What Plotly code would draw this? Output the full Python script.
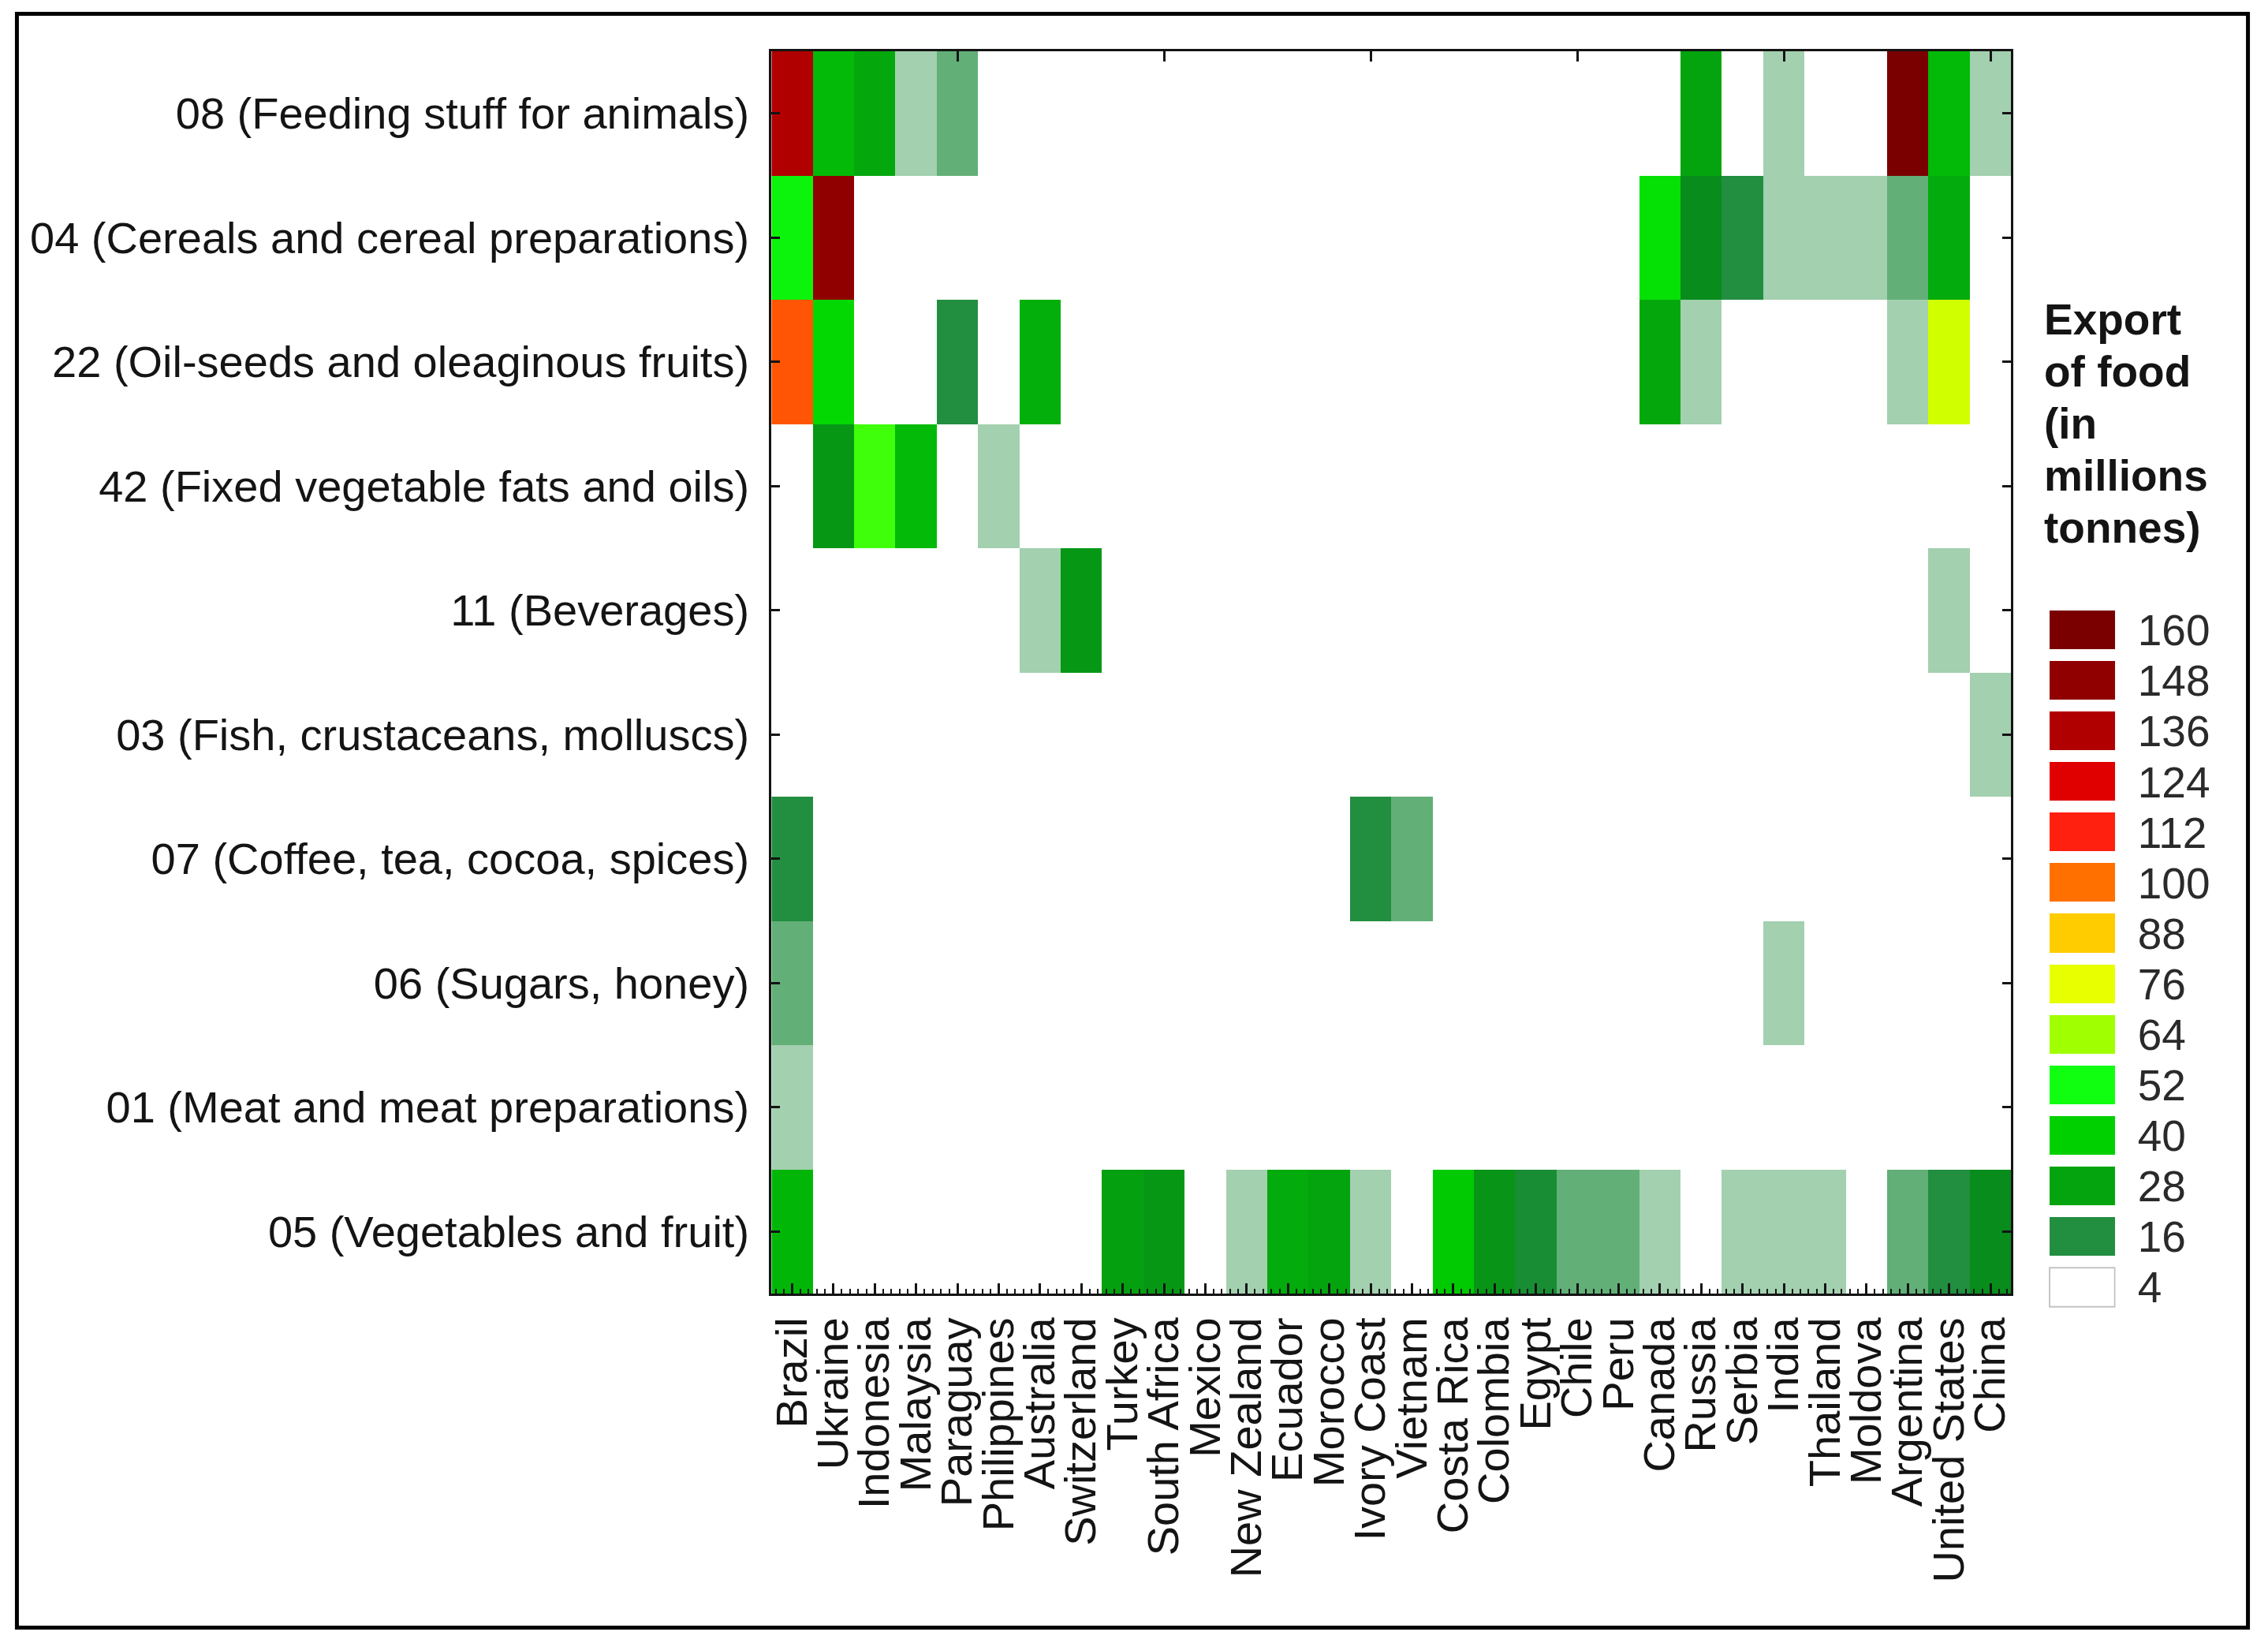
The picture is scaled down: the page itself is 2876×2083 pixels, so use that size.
import plotly.graph_objects as go

W, H = 2876, 2083

countries = ["Brazil", "Ukraine", "Indonesia", "Malaysia", "Paraguay", "Philippines", "Australia",
             "Switzerland", "Turkey", "South Africa", "Mexico", "New Zealand", "Ecuador", "Morocco",
             "Ivory Coast", "Vietnam", "Costa Rica", "Colombia", "Egypt", "Chile", "Peru", "Canada",
             "Russia", "Serbia", "India", "Thailand", "Moldova", "Argentina", "United States", "China"]

products = ["08 (Feeding stuff for animals)", "04 (Cereals and cereal preparations)",
            "22 (Oil-seeds and oleaginous fruits)", "42 (Fixed vegetable fats and oils)",
            "11 (Beverages)", "03 (Fish, crustaceans, molluscs)", "07 (Coffee, tea, cocoa, spices)",
            "06 (Sugars, honey)", "01 (Meat and meat preparations)", "05 (Vegetables and fruit)"]

# values in millions of tonnes, one row per product, columns follow `countries`; 0 = below the lowest class
row_08 = [136, 34, 29, 9, 12.5, 0, 0, 0, 0, 0, 0, 0, 0, 0, 0, 0, 0, 0, 0, 0, 0, 0, 28, 0, 9, 0, 0, 160, 34, 9]
row_04 = [49, 148, 0, 0, 0, 0, 0, 0, 0, 0, 0, 0, 0, 0, 0, 0, 0, 0, 0, 0, 0, 44, 22, 16, 9, 9, 9, 12.5, 30, 0]
row_22 = [104, 42, 0, 0, 16, 0, 31, 0, 0, 0, 0, 0, 0, 0, 0, 0, 0, 0, 0, 0, 0, 29, 9, 0, 0, 0, 0, 9, 72, 0]
row_42 = [0, 25, 56, 34, 0, 9, 0, 0, 0, 0, 0, 0, 0, 0, 0, 0, 0, 0, 0, 0, 0, 0, 0, 0, 0, 0, 0, 0, 0, 0]
row_11 = [0, 0, 0, 0, 0, 0, 9, 25, 0, 0, 0, 0, 0, 0, 0, 0, 0, 0, 0, 0, 0, 0, 0, 0, 0, 0, 0, 0, 9, 0]
row_03 = [0, 0, 0, 0, 0, 0, 0, 0, 0, 0, 0, 0, 0, 0, 0, 0, 0, 0, 0, 0, 0, 0, 0, 0, 0, 0, 0, 0, 0, 9]
row_07 = [16, 0, 0, 0, 0, 0, 0, 0, 0, 0, 0, 0, 0, 0, 16, 12.5, 0, 0, 0, 0, 0, 0, 0, 0, 0, 0, 0, 0, 0, 0]
row_06 = [12.5, 0, 0, 0, 0, 0, 0, 0, 0, 0, 0, 0, 0, 0, 0, 0, 0, 0, 0, 0, 0, 0, 0, 0, 9, 0, 0, 0, 0, 0]
row_01 = [9, 0, 0, 0, 0, 0, 0, 0, 0, 0, 0, 0, 0, 0, 0, 0, 0, 0, 0, 0, 0, 0, 0, 0, 0, 0, 0, 0, 0, 0]
row_05 = [33, 0, 0, 0, 0, 0, 0, 0, 27, 25, 0, 9, 30, 28, 9, 0, 38, 24, 18, 12.5, 12.5, 9, 0, 9, 9, 9, 0, 12.5, 16, 22]

legend_values = [160, 148, 136, 124, 112, 100, 88, 76, 64, 52, 40, 28, 16, 4]
legend_colors = ["#7a0000", "#900000", "#b00000", "#e00000", "#ff2010", "#ff7000", "#ffcc00",
                 "#e8ff00", "#a0ff00", "#10ff10", "#00d000", "#04a40e", "#228e40", "#ffffff"]

z_min, z_max = min(legend_values), max(legend_values)
stops = sorted(list(zip(legend_values, legend_colors)) + [(22, "#088c1c")])
colorscale = [[(v - z_min) / (z_max - z_min), c] for v, c in stops]

z = [row_08, row_04, row_22, row_42, row_11, row_03, row_07, row_06, row_01, row_05]

FONT = "Liberation Sans, Arial, sans-serif"
INK = "#141414"


def xf(px):
    return px / W


def yf(px):
    return 1 - px / H


fig = go.Figure()
x_idx = list(range(len(countries)))

fig.add_trace(go.Heatmap(z=z, x=x_idx, y=products, zmin=z_min, zmax=z_max, colorscale=colorscale,
                         showscale=False, xaxis="x", yaxis="y", hoverongaps=False))
# empty trace that makes the top tick axis exist
fig.add_trace(go.Scatter(x=[], y=[], xaxis="x3", yaxis="y", showlegend=False))
fig.add_trace(go.Heatmap(z=[[v] for v in legend_values], x=["swatch"], y=[str(v) for v in legend_values],
                         zmin=z_min, zmax=z_max, colorscale=colorscale, showscale=False, ygap=15,
                         xaxis="x2", yaxis="y2"))

plot_dom_x = [xf(975), xf(2553)]
plot_dom_y = [yf(1640), yf(65)]

fig.update_layout(
    width=W, height=H, margin=dict(l=0, r=0, t=0, b=0), autosize=False,
    paper_bgcolor="white", plot_bgcolor="white", showlegend=False,
    font=dict(family=FONT, color=INK),
    xaxis=dict(domain=plot_dom_x, range=[-0.5, len(countries) - 0.5], tickmode="array", tickvals=x_idx,
               ticktext=countries, tickangle=-90, tickfont=dict(size=56, family=FONT, color=INK),
               ticks="inside", ticklen=13, tickwidth=3, tickcolor=INK, ticklabelstandoff=5,
               showline=True, linecolor=INK, linewidth=3, showgrid=False, zeroline=False, anchor="y",
               minor=dict(tick0=0, dtick=0.2, ticks="inside", ticklen=6, tickwidth=2, tickcolor=INK, showgrid=False)),
    xaxis3=dict(domain=plot_dom_x, range=[-0.5, len(countries) - 0.5], overlaying="x", side="top", anchor="y",
                tickmode="array", tickvals=x_idx[4::5], showticklabels=False, ticks="inside", ticklen=13,
                tickwidth=3, tickcolor=INK, showline=True, linecolor=INK, linewidth=3,
                showgrid=False, zeroline=False),
    yaxis=dict(domain=plot_dom_y, autorange="reversed", categoryorder="array", categoryarray=products,
               tickfont=dict(size=56, family=FONT, color=INK), ticks="inside", ticklen=11, tickwidth=3,
               tickcolor=INK, ticklabelstandoff=14, showline=True, linecolor=INK, linewidth=3, mirror="ticks",
               showgrid=False, zeroline=False, anchor="x"),
    xaxis2=dict(domain=[xf(2601), xf(2686)], showticklabels=False, ticks="", showline=False,
                showgrid=False, zeroline=False, anchor="y2"),
    yaxis2=dict(domain=[yf(1664), yf(767)], autorange="reversed", categoryorder="array",
                categoryarray=[str(v) for v in legend_values], side="right", anchor="x2", ticks="",
                tickmode="array", tickvals=[str(v) for v in legend_values], ticktext=[str(v) for v in legend_values],
                tickfont=dict(size=55, family=FONT, color="#2a2a2a"), ticklabelstandoff=27,
                showline=False, showgrid=False, zeroline=False),
)

# thin outline of the lowest (white) legend class
fig.add_shape(type="rect", xref="x2", yref="y2", x0=-0.5, x1=0.5, y0=12.615, y1=13.385,
              line=dict(color="#c4c4c4", width=2), fillcolor="rgba(0,0,0,0)")

# outer frame of the figure
fig.add_shape(type="rect", xref="paper", yref="paper", x0=xf(14.5), x1=xf(2854.5), y0=yf(2063.5), y1=yf(17.5),
              line=dict(color="black", width=5), fillcolor="rgba(0,0,0,0)")

legend_title = ["Export", "of food", "(in", "millions", "tonnes)"]
for i, line in enumerate(legend_title):
    fig.add_annotation(text=f"<b>{line}</b>", xref="paper", yref="paper", x=xf(2593), y=yf(405 + 66 * i),
                       xanchor="left", yanchor="middle", showarrow=False,
                       font=dict(size=55, family=FONT, color="#141414"))

fig.write_html("out.html", config={"displayModeBar": False}, post_script="document.body.style.margin='0';")
